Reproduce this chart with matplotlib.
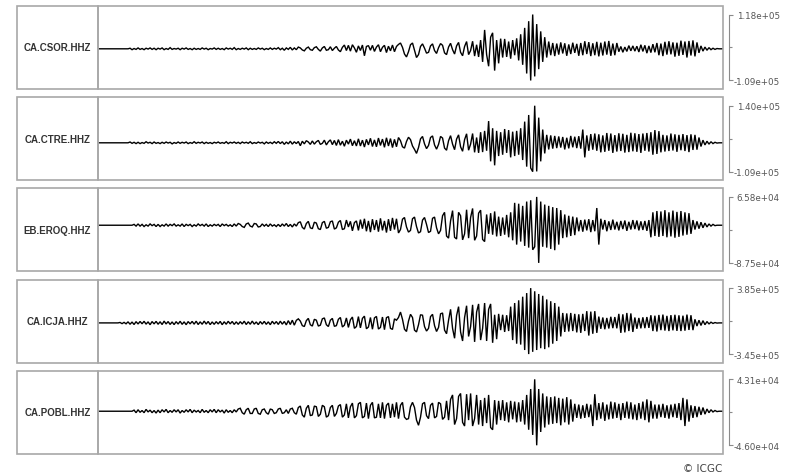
import numpy as np
import matplotlib
matplotlib.use("Agg")
import matplotlib.pyplot as plt
from matplotlib.patches import Rectangle

# Station names (top to bottom)
stations = ["CA.CSOR.HHZ", "CA.CTRE.HHZ", "EB.EROQ.HHZ", "CA.ICJA.HHZ", "CA.POBL.HHZ"]

# Waveform amplitudes (thousands of counts), one sample per step
csor = [
    0,0,0,0,0,0,0,0,0,0,
    0,0,0,0,0,0,2,-3,1,-2,
    3,-2,1,-3,2,-1,3,-2,2,-3,
    2,-1,3,-3,1,-2,4,-2,1,-1,
    2,-3,2,-1,3,-2,1,-3,2,-2,
    1,-2,3,-1,2,-3,1,-1,3,-2,
    2,-2,1,-3,3,-1,2,-2,4,-3,
    1,-2,2,-1,3,-3,2,-2,1,-2,
    3,-1,2,-3,1,-2,3,-2,2,-1,
    4,-3,2,-5,3,-2,5,-4,3,-3,
    6,3,-4,-7,2,6,-3,-5,4,7,
    -2,-8,3,8,-5,-3,7,-6,2,8,
    -4,-10,5,13,-6,12,-8,14,3,-12,
    10,-6,13,-24,8,11,-5,12,-9,6,
    14,-10,5,12,-13,9,-7,13,-10,8,
    15,20,5,-18,-28,-10,14,20,-5,-30,
    -20,8,17,2,-15,-12,10,17,-6,-16,
    4,18,12,-14,-20,6,19,-3,-18,10,
    22,-12,-24,8,25,-20,-6,26,-25,14,
    -28,30,-45,65,-20,-60,40,55,-75,30,
    -50,35,-30,34,-28,25,-34,30,-22,36,
    -40,50,-55,72,-85,95,-109,118,-95,85,
    -70,60,-45,40,-30,25,-22,20,-25,18,
    -20,22,-16,19,-24,15,-18,21,-14,17,
    -24,20,-22,26,-18,23,-25,19,-22,24,
    -26,21,-23,25,-20,27,-24,18,-22,20,
    -10,8,-12,6,-9,11,-7,10,-8,9,
    -11,14,-9,12,-15,10,-13,16,-12,20,
    -22,18,-25,24,-20,26,-19,22,-27,21,
    -24,28,-21,25,-30,27,-23,29,-26,22,
    -14,10,-8,6,-5,4,-3,2,-2,1,
    0,0,0,
]

ctre = [
    0,0,0,0,0,0,0,0,0,0,
    0,0,0,0,0,0,3,-2,2,-3,
    2,-3,1,-2,4,-1,2,-3,3,-2,
    1,-3,2,-2,3,-1,2,-4,1,-2,
    3,-2,2,-1,3,-3,1,-2,4,-2,
    2,-1,3,-3,2,-2,1,-3,2,-1,
    3,-2,1,-2,4,-3,2,-1,3,-2,
    2,-3,3,-1,2,-2,4,-3,1,-2,
    3,-1,2,-4,3,-2,2,-3,4,-2,
    5,-3,4,-6,3,-4,6,-5,4,-3,
    5,-11,6,-4,8,3,-6,7,-5,4,
    9,-6,-2,10,-8,4,11,-7,9,-10,
    12,-9,6,-13,10,-5,14,-11,8,-12,
    15,-12,10,-16,13,-8,17,-14,11,-15,
    18,-10,14,-17,19,-12,16,-18,13,-15,
    20,8,-15,-20,5,21,12,-12,-25,-40,
    -18,15,24,-4,-22,-10,20,26,-8,-24,
    -6,24,18,-20,-28,8,27,-5,-26,14,
    30,-15,-32,12,34,-28,-5,35,-36,20,
    -38,40,-35,45,-30,82,-70,55,-85,45,
    -50,40,-45,52,-38,48,-55,42,-50,45,
    -45,55,-65,80,-90,105,-95,-109,140,-108,
    95,-70,50,-40,30,-25,28,-22,26,-20,
    24,-18,22,-25,19,-21,26,-17,23,-20,
    25,-22,50,-55,28,-30,33,-26,35,-30,
    32,-36,28,-34,37,-30,35,-38,29,-33,
    36,-31,34,-37,30,-35,38,-32,36,-34,
    33,-38,35,-30,37,-33,40,-45,48,-42,
    44,-36,30,-33,28,-31,35,-29,32,-34,
    30,-28,33,-31,29,-35,32,-27,30,-26,
    20,-14,10,-8,6,-5,4,-3,2,-1,
    0,0,0,
]

eroq = [
    0,0,0,0,0,0,0,0,0,0,
    0,0,0,0,0,0,0,0,2,-2,
    3,-2,2,-3,1,-2,3,-1,2,-3,
    2,-3,1,-2,3,-2,2,-1,3,-2,
    1,-2,3,-3,2,-1,2,-3,1,-2,
    3,-1,2,-2,3,-3,1,-2,2,-1,
    2,-3,3,-1,2,-2,1,-3,3,-2,
    4,2,-3,-5,3,5,-2,-4,4,3,
    -4,-3,3,-2,2,-3,3,-2,1,-3,
    2,-3,3,-2,4,-3,2,-4,3,-2,
    6,8,-5,-9,4,9,-6,-8,7,5,
    -8,-10,6,9,-7,-5,8,10,-9,-6,
    7,11,-10,-8,12,-4,9,-13,6,10,
    -12,13,-8,15,-14,10,-16,14,-11,12,
    -15,16,-12,10,-17,14,-13,17,-10,15,
    -18,-10,14,18,-4,-16,-12,15,19,-3,
    -18,-15,12,18,2,-17,-14,16,19,-6,
    -20,-12,22,30,-25,-30,10,34,-28,-32,
    30,22,-34,-20,36,-30,18,39,-35,-25,
    28,35,-33,-38,25,-20,28,-22,32,-26,
    20,-25,18,-22,24,-28,30,-35,52,-45,
    50,-38,45,-48,55,-52,58,-57,-50,65.8,
    -87.5,55,-50,48,-52,45,-55,42,-58,40,
    -45,35,-30,25,-28,22,-25,20,-23,18,
    -14,12,-15,13,-12,14,-16,12,-14,40,
    -45,15,-10,12,-14,9,-11,13,-10,8,
    -12,10,-9,11,-13,8,-10,12,-9,11,
    -12,9,-11,10,-13,12,-28,30,-25,33,
    -27,32,-25,35,-28,30,-26,34,-29,31,
    -27,33,-24,30,-22,28,-20,12,-10,9,
    -8,7,-6,5,-4,3,-2,2,-1,0,
    0,0,0,
]

icja = [
    0,0,0,0,0,0,0,0,0,0,
    0,5,-8,6,-10,12,-15,10,-18,14,
    -12,16,-10,18,-14,12,-20,15,-11,17,
    -15,13,-18,20,-12,15,-17,11,-19,14,
    -13,18,-16,12,-20,15,-11,17,-14,19,
    -18,12,-15,20,-13,16,-19,11,-16,14,
    -12,17,-20,13,-15,18,-11,16,-17,12,
    -16,14,-12,19,-18,13,-15,20,-14,11,
    -19,15,-13,17,-16,12,-20,18,-12,15,
    -17,19,-14,16,-22,25,-18,30,-25,28,
    45,20,-30,-40,25,50,-20,-35,40,30,
    -35,-25,45,55,-20,-40,30,50,-38,-30,
    40,60,-45,-25,55,-50,35,65,-60,-40,
    70,-55,50,75,-65,-45,60,-70,55,72,
    -68,-50,65,-75,58,70,-60,-72,45,30,
    60,120,40,-70,-95,20,95,60,-80,-100,
    -20,90,85,-40,-90,-60,70,95,-30,-95,
    -50,100,110,-80,-120,30,150,-60,-170,80,
    180,-100,-200,60,190,-150,-40,200,-210,120,
    210,-190,-60,220,-200,150,210,-220,90,-180,
    100,-80,90,-100,85,-90,180,-190,220,-230,
    250,-240,290,-300,330,-345,385,-320,350,-300,
    320,-280,300,-290,260,-270,240,-230,220,-200,
    180,-150,110,-100,105,-95,110,-90,100,-105,
    95,-110,100,-90,130,-140,125,-120,130,-110,
    70,-65,60,-70,55,-62,68,-58,65,-60,
    100,-110,95,-105,110,-90,105,-100,60,-65,
    55,-60,62,-58,65,-55,85,-90,80,-95,
    88,-80,92,-85,78,-90,86,-82,90,-88,
    84,-90,80,-86,92,-78,85,-80,40,-35,
    30,-28,25,-20,15,-12,8,-6,4,-2,
    0,0,0,
]

pobl = [
    0,0,0,0,0,0,0,0,0,0,
    0,0,0,0,0,0,0,0,1.5,-2,
    2,-1.5,1,-2,2.5,-1,1.5,-2,1,-2.5,
    1.5,-2,2,-1,2.5,-2,1,-1.5,2,-1,
    2,-2.5,1,-1.5,2,-1,2.5,-2,1.5,-1,
    1,-2,2.5,-1.5,1,-2,2,-1,2.5,-2,
    2,-1,1.5,-2.5,2,-1.5,1,-2,2,-1,
    3,4,-2,-4,2,4,-3,-3,3,4,
    -3,-4,2,3,-2,-4,3,2,-3,-2,
    3,4,-3,-2,2,-3,3,4,-2,-4,
    5,7,-5,-8,4,8,-6,-5,7,6,
    -7,-4,8,6,-8,-6,5,8,-7,-3,
    7,9,-8,-5,10,-9,6,11,-9,-6,
    10,12,-9,-7,11,-10,8,12,-9,-8,
    10,-9,12,-10,8,11,-9,10,-8,12,
    -10,8,12,-8,-11,-10,6,12,5,-12,
    -19,-8,10,12,-6,-10,8,11,-9,-7,
    12,10,-11,-8,14,-12,16,22,-18,-10,
    20,24,-15,-20,23,-12,24,-20,-10,22,
    -18,15,-20,18,-16,22,-22,-25,15,-18,
    14,-12,15,-13,12,-15,14,-11,13,-15,
    12,-14,15,-18,22,-25,30,-32,43.1,-46,
    30,-28,24,-22,20,-18,19,-17,20,-16,
    18,-19,17,-15,19,-18,16,-14,10,-9,
    9,-10,8,-9,10,-8,9,-20,23,-12,
    11,-10,12,-13,9,-11,13,-10,12,-9,
    10,-12,11,-9,13,-10,12,-11,9,-12,
    11,-10,13,-12,16,-15,14,-10,9,-10,
    9,-8,10,-9,8,-10,9,-8,10,-9,
    11,-12,18,-20,16,-14,8,-9,7,-8,
    6,-5,5,-4,3,-2,2,-1,1,-0.5,
    0,0,0,
]

traces = [csor, ctre, eroq, icja, pobl]

W, H = 800, 477
fig = plt.figure(figsize=(W / 100, H / 100), dpi=100)
fig.patch.set_facecolor("white")

box_color = "#a8a8a8"
axis_color = "#8a8a8a"
label_left, split_x, right_x = 17, 98, 723
panel_h = 83
panel_step = 91.2

for i, (name, vals) in enumerate(zip(stations, traces)):
    top = 7 + panel_step * i
    bottom_frac = 1 - (top + panel_h) / H
    h_frac = panel_h / H
    ax = fig.add_axes([split_x / W, bottom_frac, (right_x - split_x) / W, h_frac])
    y = np.asarray(vals, dtype=float) * 1e3
    x = np.arange(len(y))
    ax.plot(x, y, color="black", lw=1.0, solid_joinstyle="miter")
    vmax, vmin = y.max(), y.min()
    rng = vmax - vmin
    pad = 0.129 * rng
    ax.set_xlim(0, len(y) - 1)
    ax.set_ylim(vmin - pad, vmax + pad)
    ax.set_xticks([])
    for s in ("top", "bottom", "left"):
        ax.spines[s].set_visible(False)
    sp = ax.spines["right"]
    sp.set_position(("outward", 6 * 0.72))
    sp.set_bounds(vmin, vmax)
    sp.set_color(axis_color)
    sp.set_linewidth(0.8)
    ax.yaxis.tick_right()
    ax.set_yticks([vmax, vmin])
    ax.set_yticklabels(["%.2e" % vmax, "%.2e" % vmin], ha="right")
    ax.set_yticks([(vmax + vmin) / 2], minor=True)
    ax.tick_params(axis="y", which="major", direction="out", length=3.0, width=0.8,
                   color=axis_color, labelsize=6.3, labelcolor="#555555", pad=33.5)
    ax.tick_params(axis="y", which="minor", direction="out", length=2.2, width=0.8,
                   color=axis_color)
    # panel frame
    ax.add_patch(Rectangle((0, 0), 1, 1, transform=ax.transAxes, fill=False,
                           ec=box_color, lw=1.2, clip_on=False, zorder=5))
    # label cell
    fig.patches.append(Rectangle((label_left / W, bottom_frac), (split_x - label_left) / W, h_frac,
                                 transform=fig.transFigure, fill=False, ec=box_color, lw=1.2))
    fig.text((label_left + split_x) / 2 / W, bottom_frac + h_frac / 2, name,
             ha="center", va="center", fontsize=7, fontweight="bold",
             color="#333333", family="Liberation Sans")

fig.text(722 / W, 1 - 469 / H, "© ICGC", ha="right", va="center",
         fontsize=7.5, color="#444444")

fig.savefig("out.png", dpi=100, facecolor="white")
